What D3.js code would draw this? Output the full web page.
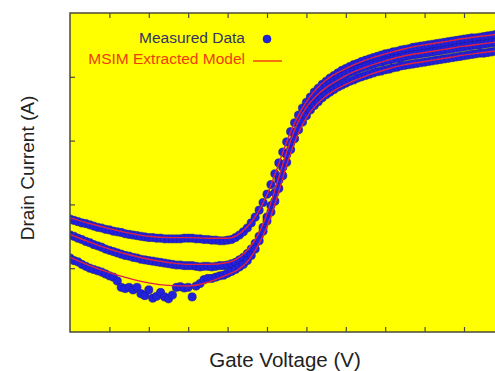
<!DOCTYPE html>
<html><head><meta charset="utf-8">
<script src="https://cdn.jsdelivr.net/npm/d3@7"></script>
<style>html,body{margin:0;padding:0;background:#fff;overflow:hidden}</style>
</head><body>
<script>
// ---- data (arbitrary units) ----
const measuredStart = 0, measuredStep = 0.1;
const measuredA = [1.77,1.75,1.73,1.71,1.70,1.68,1.66,1.64,1.63,1.61,1.60,1.58,1.57,1.56,1.54,1.53,1.52,1.51,1.50,1.49,
1.48,1.48,1.47,1.47,1.46,1.46,1.46,1.46,1.46,1.47,1.47,1.47,1.46,1.46,1.45,1.45,1.44,1.44,1.43,1.43,
1.44,1.45,1.48,1.52,1.57,1.63,1.71,1.80,1.91,2.03,2.16,2.31,2.48,2.65,2.82,2.98,3.14,3.28,3.40,3.51,
3.60,3.68,3.76,3.82,3.88,3.93,3.98,4.02,4.06,4.10,4.13,4.16,4.19,4.21,4.24,4.26,4.28,4.30,4.32,4.34,
4.36,4.37,4.39,4.40,4.42,4.43,4.44,4.46,4.47,4.48,4.49,4.50,4.51,4.52,4.53,4.54,4.55,4.56,4.57,4.58,
4.59,4.60,4.61,4.61,4.62,4.63,4.64,4.65,4.66];
const measuredB = [1.52,1.50,1.47,1.45,1.42,1.40,1.37,1.35,1.33,1.30,1.28,1.26,1.24,1.22,1.20,1.19,1.17,1.16,1.14,1.13,
1.12,1.11,1.10,1.09,1.08,1.07,1.06,1.05,1.05,1.04,1.04,1.04,1.03,1.02,1.03,1.03,1.02,1.03,1.04,1.04,
1.05,1.07,1.09,1.13,1.17,1.23,1.30,1.39,1.50,1.64,1.80,1.98,2.18,2.38,2.58,2.78,2.96,3.13,3.28,3.41,
3.52,3.61,3.69,3.75,3.81,3.86,3.90,3.94,3.98,4.01,4.04,4.07,4.09,4.12,4.14,4.16,4.18,4.20,4.22,4.23,
4.25,4.26,4.28,4.29,4.30,4.32,4.33,4.34,4.35,4.36,4.37,4.38,4.39,4.40,4.41,4.42,4.43,4.44,4.45,4.46,
4.47,4.48,4.49,4.50,4.50,4.51,4.52,4.53,4.54];
const measuredC = [1.16,1.12,1.10,1.06,1.03,1.00,0.98,0.96,0.94,0.91,0.88,0.86,0.80,0.70,0.68,0.70,0.66,0.70,0.60,0.57,
0.66,0.53,0.56,0.62,0.55,0.52,0.58,0.70,0.71,0.69,0.70,0.55,0.72,0.76,0.82,0.84,0.84,0.86,0.88,0.89,
0.92,0.95,0.98,1.02,1.06,1.12,1.20,1.30,1.43,1.58,1.74,1.88,2.05,2.25,2.45,2.66,2.86,3.03,3.17,3.29,
3.39,3.48,3.55,3.61,3.67,3.72,3.76,3.80,3.84,3.87,3.90,3.93,3.95,3.98,4.00,4.02,4.04,4.06,4.08,4.09,
4.11,4.12,4.14,4.15,4.17,4.18,4.19,4.20,4.21,4.22,4.23,4.24,4.25,4.26,4.27,4.28,4.29,4.30,4.31,4.32,
4.33,4.34,4.35,4.36,4.37,4.37,4.38,4.39,4.40];

const modelX = [0,0.5,1,1.5,2,2.5,3,3.5,4,4.25,4.5,4.75,5,5.25,5.5,5.75,6,6.25,6.5,6.75,7,7.5,8,8.5,9,9.5,10,10.5,11];
const modelA = [1.79,1.70,1.62,1.55,1.50,1.48,1.48,1.47,1.47,1.52,1.65,1.85,2.15,2.55,2.98,3.34,3.61,3.81,3.95,4.05,4.13,4.26,4.36,4.44,4.50,4.55,4.60,4.64,4.68];
const modelB = [1.53,1.41,1.30,1.21,1.14,1.09,1.06,1.06,1.09,1.15,1.28,1.50,1.85,2.32,2.82,3.24,3.52,3.70,3.83,3.93,4.02,4.15,4.25,4.33,4.38,4.43,4.48,4.52,4.56];
const modelC = [1.17,1.04,0.93,0.84,0.77,0.73,0.72,0.78,0.90,0.97,1.10,1.33,1.65,2.10,2.62,3.05,3.36,3.56,3.70,3.80,3.88,4.01,4.11,4.19,4.24,4.29,4.34,4.38,4.42];

const xTicks = [1,2,3,4,5,6,7,8,9,10];
const yTicks = [1,2,3,4];
const legendLabels = ["Measured Data", "MSIM Extracted Model"];
const xLabel = "Gate Voltage (V)";
const yLabel = "Drain Current (A)";

// ---- layout ----
const W = 495, H = 371;
const L = 70, T = 13, R = 503.4, B = 332;
const x = d3.scaleLinear().domain([0, 11]).range([L, R]);
const y = d3.scaleLinear().domain([0, 5]).range([B, T]);

const svg = d3.select("body").append("svg").attr("width", W).attr("height", H)
  .style("font-family", "'Liberation Sans', Arial, Helvetica, sans-serif");

svg.append("rect").attr("x", L).attr("y", T).attr("width", R - L).attr("height", B - T).attr("fill", "#ffff00");

svg.append("defs").append("clipPath").attr("id", "clip")
  .append("rect").attr("x", L).attr("y", T).attr("width", R - L).attr("height", B - T);

const plot = svg.append("g").attr("clip-path", "url(#clip)");

const dotFill = "#2222dd", dotStroke = "#18189a";
// measured dots
[measuredA, measuredB, measuredC].forEach(series => {
  plot.append("g").selectAll("circle").data(series).join("circle")
    .attr("cx", (d, i) => x(measuredStart + i * measuredStep))
    .attr("cy", d => y(d))
    .attr("r", 4.1)
    .attr("fill", dotFill)
    .attr("stroke", dotStroke)
    .attr("stroke-width", 0.6);
});

// model lines
const line = d3.line().x(d => x(d[0])).y(d => y(d[1])).curve(d3.curveMonotoneX);
[modelA, modelB, modelC].forEach(series => {
  plot.append("path").datum(modelX.map((v, i) => [v, series[i]]))
    .attr("d", line).attr("fill", "none").attr("stroke", "#dd2244").attr("stroke-width", 1.4);
});

// axes (ticks inward on all sides)
const frameColor = "#4a4a3a";
const axB = d3.axisBottom(x).tickValues(xTicks).tickSize(-5).tickFormat("");
const axT = d3.axisTop(x).tickValues(xTicks).tickSize(-5).tickFormat("");
const axL = d3.axisLeft(y).tickValues(yTicks).tickSize(-5).tickFormat("");
const axR = d3.axisRight(y).tickValues(yTicks).tickSize(-5).tickFormat("");
[[axB, `translate(0,${B})`], [axT, `translate(0,${T})`], [axL, `translate(${L},0)`], [axR, `translate(${R},0)`]]
  .forEach(([ax, tr]) => {
    const g = svg.append("g").attr("transform", tr).call(ax);
    g.select(".domain").remove();
    g.selectAll("line").attr("stroke", frameColor).attr("stroke-width", 1.2);
  });
svg.append("rect").attr("x", L).attr("y", T).attr("width", R - L).attr("height", B - T)
  .attr("fill", "none").attr("stroke", frameColor).attr("stroke-width", 1.5);

// legend
svg.append("text").attr("x", 245).attr("y", 43).attr("text-anchor", "end")
  .attr("font-size", 15.5).attr("fill", "#333366").text(legendLabels[0]);
svg.append("circle").attr("cx", 267).attr("cy", 39).attr("r", 4).attr("fill", dotFill).attr("stroke", dotStroke).attr("stroke-width", 0.6);
svg.append("text").attr("x", 245).attr("y", 64).attr("text-anchor", "end")
  .attr("font-size", 15.5).attr("fill", "#f03c0c").text(legendLabels[1]);
svg.append("line").attr("x1", 253).attr("x2", 282).attr("y1", 61).attr("y2", 61)
  .attr("stroke", "#f03c0c").attr("stroke-width", 1.4);

// axis titles
svg.append("text").attr("x", 285).attr("y", 367).attr("text-anchor", "middle")
  .attr("font-size", 20.5).attr("fill", "#222").text(xLabel);
svg.append("text").attr("transform", "translate(34,168) rotate(-90)").attr("text-anchor", "middle")
  .attr("font-size", 19).attr("fill", "#222").text(yLabel);
</script>
</body></html>
